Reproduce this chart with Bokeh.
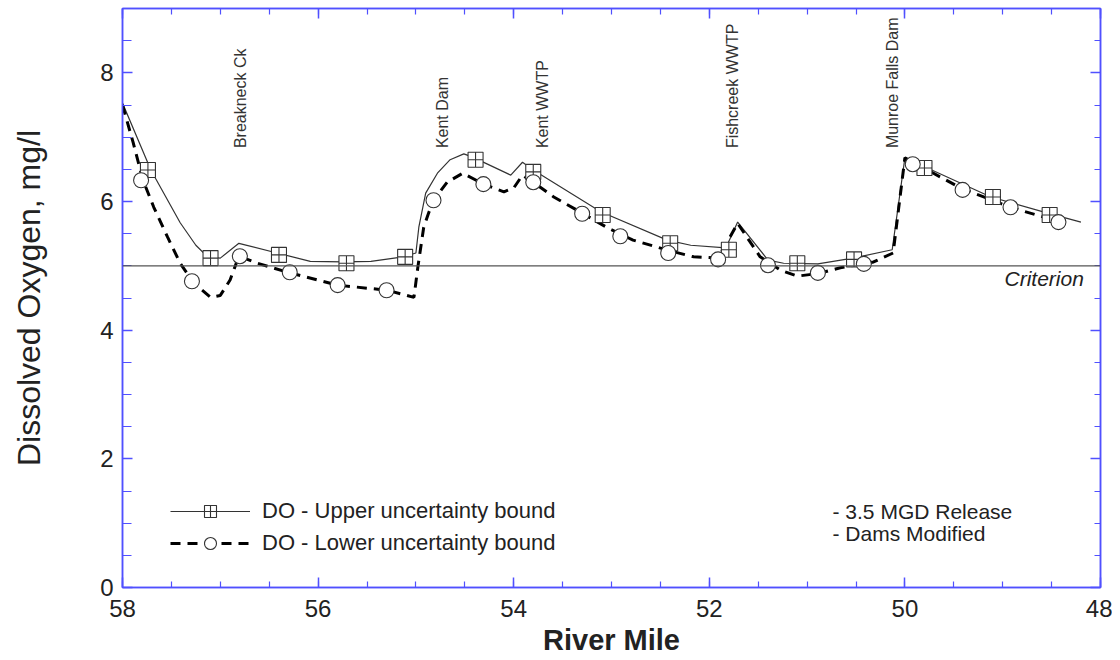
import math
from bokeh.plotting import figure
from bokeh.models import (Range1d, FixedTicker, LinearAxis, Span, Label, Legend, LegendItem,
                          ColumnDataSource)
from bokeh.core.properties import value
from bokeh.embed import file_html
from bokeh.resources import INLINE

FONT = "Liberation Sans"
BLUE = "#5050ff"

# ---- data ----
upper_x = [58.0, 57.71, 57.41, 57.25, 57.13, 57.00, 56.81, 56.42, 56.08, 55.74, 55.46, 55.13,
           55.00, 54.97, 54.90, 54.78, 54.65, 54.51, 54.42, 54.03, 53.91, 53.80, 53.11, 52.43,
           52.19, 51.83, 51.71, 51.40, 51.24, 50.89, 50.53, 50.13, 50.00, 49.77, 49.12, 48.54, 48.20]
upper_y = [7.53, 6.49, 5.67, 5.32, 5.14, 5.12, 5.35, 5.20, 5.07, 5.06, 5.07, 5.14,
           5.20, 5.60, 6.13, 6.44, 6.65, 6.74, 6.69, 6.41, 6.61, 6.49, 5.84, 5.40,
           5.32, 5.28, 5.68, 5.09, 5.04, 5.03, 5.12, 5.25, 6.68, 6.52, 6.07, 5.82, 5.68]

lower_x = [58.0, 57.89, 57.79, 57.68, 57.54, 57.41, 57.27, 57.10, 57.00, 56.90, 56.81, 56.62,
           56.31, 55.80, 55.29, 55.02, 54.98, 54.92, 54.87, 54.82, 54.68, 54.52, 54.31, 54.10,
           54.00, 53.91, 53.80, 53.59, 53.30, 53.04, 52.78, 52.42, 52.16, 51.91, 51.71, 51.48,
           51.27, 51.10, 50.89, 50.66, 50.32, 50.12, 50.00, 49.43, 48.92, 48.41]
lower_y = [7.50, 6.91, 6.33, 5.91, 5.45, 5.04, 4.73, 4.51, 4.54, 4.78, 5.15, 5.04,
           4.90, 4.70, 4.62, 4.51, 4.98, 5.60, 5.82, 6.02, 6.30, 6.44, 6.27, 6.15,
           6.21, 6.41, 6.30, 6.07, 5.82, 5.59, 5.40, 5.24, 5.14, 5.12, 5.66, 5.14,
           4.93, 4.84, 4.88, 4.97, 5.06, 5.20, 6.68, 6.21, 5.91, 5.68]

upper_mx = [57.74, 57.10, 56.40, 55.71, 55.11, 54.39, 53.80, 53.09, 52.40, 51.80, 51.10, 50.52,
            49.80, 49.10, 48.52]
upper_my = [6.49, 5.12, 5.17, 5.04, 5.14, 6.65, 6.46, 5.79, 5.35, 5.25, 5.04, 5.10,
            6.52, 6.07, 5.79]

lower_mx = [57.81, 57.29, 56.80, 56.29, 55.80, 55.30, 54.82, 54.31, 53.80, 53.30, 52.91, 52.42,
            51.91, 51.40, 50.89, 50.42, 49.92, 49.41, 48.92, 48.43]
lower_my = [6.33, 4.76, 5.15, 4.90, 4.70, 4.62, 6.02, 6.27, 6.30, 5.81, 5.46, 5.20,
            5.10, 5.01, 4.89, 5.03, 6.58, 6.18, 5.91, 5.68]

site_names = ["Breakneck Ck", "Kent Dam", "Kent WWTP", "Fishcreek WWTP", "Munroe Falls Dam"]
site_miles = [56.79, 54.73, 53.71, 51.76, 50.13]
site_label_y = 6.83

criterion = 5.0
x_ticks = [58, 56, 54, 52, 50, 48]
y_ticks = [0, 2, 4, 6, 8]
note_lines = ["- 3.5 MGD Release", "- Dams Modified"]
note_y = [1.18, 0.84]
note_x = 50.74

p = figure(width=1112, height=658, output_backend="svg", toolbar_location=None,
           x_range=Range1d(58, 48), y_range=Range1d(0, 9),
           min_border_left=122, min_border_right=12, min_border_top=8, min_border_bottom=70)
p.background_fill_color = "white"
p.border_fill_color = "white"
p.outline_line_color = BLUE
p.outline_line_width = 1.5
p.grid.visible = False

x_minor = [58 - 0.5 * i for i in range(21)]
y_minor = [0.5 * i for i in range(19)]

def style_axis(ax, ticks, minor, show_labels):
    ax.ticker = FixedTicker(ticks=ticks, minor_ticks=minor)
    ax.axis_line_color = BLUE
    ax.axis_line_width = 1.5
    ax.major_tick_line_color = BLUE
    ax.minor_tick_line_color = BLUE
    ax.major_tick_line_width = 1.5
    ax.minor_tick_line_width = 1.2
    ax.major_tick_in = 10
    ax.major_tick_out = 0
    ax.minor_tick_in = 6
    ax.minor_tick_out = 0
    if show_labels:
        ax.major_label_text_font = FONT
        ax.major_label_text_font_size = "24px"
        ax.major_label_text_color = "#222222"
    else:
        ax.major_label_overrides = {t: "" for t in ticks}
        ax.major_label_standoff = 0

xa = p.xaxis[0]
style_axis(xa, x_ticks, x_minor, True)
xa.major_label_standoff = 12
xa.axis_label = "River Mile"
xa.axis_label_text_font = FONT
xa.axis_label_text_font_size = "29px"
xa.axis_label_text_font_style = "bold"
xa.axis_label_text_color = "#222222"
xa.axis_label_standoff = 4

ya = p.yaxis[0]
style_axis(ya, y_ticks, y_minor, True)
ya.minor_tick_in = 9
ya.major_label_standoff = 9
ya.axis_label = "Dissolved Oxygen, mg/l"
ya.axis_label_text_font = FONT
ya.axis_label_text_font_size = "32px"
ya.axis_label_text_font_style = "normal"
ya.axis_label_text_color = "#222222"
ya.axis_label_standoff = 50

top = LinearAxis()
style_axis(top, x_ticks, x_minor, False)
p.add_layout(top, "above")
right = LinearAxis()
style_axis(right, y_ticks, y_minor, False)
p.add_layout(right, "right")

# criterion line
p.add_layout(Span(location=criterion, dimension="width", line_color="#555555", line_width=1.2))
p.add_layout(Label(x=48.17, y=criterion - 0.19, text="Criterion", text_font=FONT,
                   text_font_size="21px", text_font_style="italic", text_align="right",
                   text_baseline="middle", text_color="#222222"))

# series
l_up = p.line(upper_x, upper_y, line_color="#333333", line_width=1.2)
l_lo = p.line(lower_x, lower_y, line_color="black", line_width=3, line_dash="10 7")
m_up = p.scatter(upper_mx, upper_my, marker="square_cross", size=15, fill_color="white",
                 line_color="#333333", line_width=1.1)
m_lo = p.scatter(lower_mx, lower_my, marker="circle", size=15, fill_color="white",
                 line_color="#333333", line_width=1.1)

# site labels
src = ColumnDataSource(dict(x=site_miles, y=[site_label_y] * len(site_miles), t=site_names))
p.text(x="x", y="y", text="t", source=src, angle=math.pi / 2, text_align="left",
       text_baseline="middle", text_font=value(FONT), text_font_size="16px",
       text_color="#333333")

# notes
for txt, yy in zip(note_lines, note_y):
    p.add_layout(Label(x=note_x, y=yy, text=txt, text_font=FONT, text_font_size="21px",
                       text_align="left", text_baseline="middle", text_color="#222222"))

legend = Legend(items=[LegendItem(label="DO - Upper uncertainty bound", renderers=[l_up, m_up]),
                       LegendItem(label="DO - Lower uncertainty bound", renderers=[l_lo, m_lo])],
                location=(48, 29), glyph_width=80, glyph_height=30, label_height=30,
                label_standoff=12, spacing=2, padding=0, margin=0,
                label_text_font=FONT, label_text_font_size="22px",
                label_text_color="#222222", background_fill_alpha=0, border_line_alpha=0)
p.add_layout(legend, "center")

open("out.html", "w").write(file_html(p, INLINE))
